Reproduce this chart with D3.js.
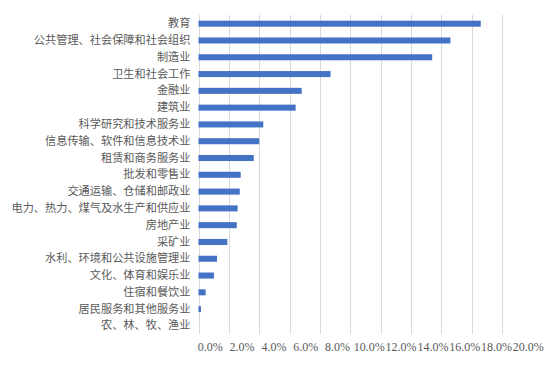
<!DOCTYPE html>
<html><head><meta charset="utf-8">
<script src="https://cdn.jsdelivr.net/npm/d3@7"></script>
<style>body{margin:0;background:#fff}svg{display:block}</style>
</head><body>
<script>
const categories = ["教育","公共管理、社会保障和社会组织","制造业","卫生和社会工作","金融业","建筑业","科学研究和技术服务业","信息传输、软件和信息技术业","租赁和商务服务业","批发和零售业","交通运输、仓储和邮政业","电力、热力、煤气及水生产和供应业","房地产业","采矿业","水利、环境和公共设施管理业","文化、体育和娱乐业","住宿和餐饮业","居民服务和其他服务业","农、林、牧、渔业"];
const values = [18.6,16.6,15.4,8.7,6.8,6.4,4.27,4.0,3.64,2.78,2.72,2.58,2.52,1.9,1.22,1.02,0.47,0.16,0.0];
const tickValues = [0,2,4,6,8,10,12,14,16,18,20];

const W=554,H=366;
const svg=d3.select("body").append("svg").attr("width",W).attr("height",H);
const x=d3.scaleLinear().domain([0,20]).range([198.5,502]);
const y=d3.scaleBand().domain(categories).range([15.3,334.3]).paddingInner(0.64).paddingOuter(0.32);
const xLabel=d3.scaleLinear().domain([0,20]).range([209.8,527.8]);

svg.append("g").selectAll("line").data(tickValues).join("line")
  .attr("x1",d=>Math.round(x(d))+0.5).attr("x2",d=>Math.round(x(d))+0.5)
  .attr("y1",15).attr("y2",334)
  .attr("stroke","#d9d9d9").attr("stroke-width",1);

svg.append("g").selectAll("rect").data(values).join("rect")
  .attr("x",x(0)).attr("y",(d,i)=>y(categories[i]))
  .attr("width",d=>x(d)-x(0)).attr("height",y.bandwidth())
  .attr("fill","#4472c4");

const ya=svg.append("g").attr("transform",`translate(${x(0)},0)`)
  .call(d3.axisLeft(y).tickSize(0).tickPadding(8));
ya.select(".domain").remove();
ya.selectAll("text").attr("font-family","'Noto Sans CJK SC'").attr("font-size","11.2px").attr("fill","#595959");

const xa=svg.append("g").attr("transform","translate(0,340)")
  .call(d3.axisBottom(xLabel).tickValues(tickValues).tickSize(0).tickPadding(2).tickFormat(d=>d.toFixed(1)+"%"));
xa.select(".domain").remove();
xa.selectAll("text").attr("font-family","'Liberation Serif'").attr("font-size","12px").attr("fill","#595959");
</script>
</body></html>
